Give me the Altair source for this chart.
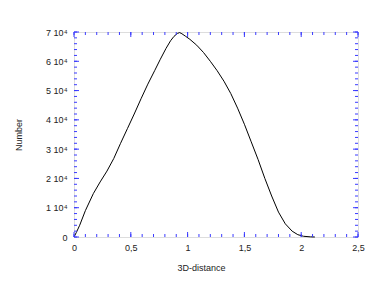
import altair as alt
import pandas as pd

# curve data
dist = [0, 0.02, 0.05, 0.1, 0.17, 0.23, 0.29, 0.35, 0.41, 0.47, 0.53, 0.59, 0.65,
        0.71, 0.76, 0.81, 0.85, 0.88, 0.91, 0.93, 0.95, 0.98, 1.02, 1.08, 1.14,
        1.2, 1.26, 1.32, 1.38, 1.44, 1.5, 1.56, 1.62, 1.68, 1.74, 1.8, 1.86,
        1.92, 1.97, 2.02, 2.08, 2.12]
number = [0, 1500, 4000, 9000, 14800, 18800, 22500, 26800, 32000, 37000, 42000,
          47200, 52200, 56800, 60700, 64400, 67000, 68500, 69500, 69800, 69400,
          68600, 67500, 65500, 63000, 60000, 56800, 53200, 49000, 44000, 38500,
          32500, 26500, 20000, 14000, 8500, 4500, 2000, 800, 250, 50, 0]

x_major = [0, 0.5, 1.0, 1.5, 2.0, 2.5]
x_minor = [round(i * 0.1, 1) for i in range(26)]
y_major = [0, 10000, 20000, 30000, 40000, 50000, 60000, 70000]
y_minor = [i * 2000 for i in range(36)]

W, H = 284, 205
BLUE = "#3a3aff"
FONT = "Liberation Sans"
TXT = "#222222"

xs = alt.Scale(domain=[0, 2.5], nice=False, zero=False)
ys = alt.Scale(domain=[0, 70000], nice=False)

x_axis = alt.Axis(values=x_major, ticks=False, domain=False, grid=False,
                  labelExpr="replace(toString(datum.value), '.', ',')",
                  labelFont=FONT, labelFontSize=9, labelColor=TXT,
                  labelPadding=6, titleFont=FONT, titleFontSize=9,
                  titleFontWeight="normal", titlePadding=11, titleColor=TXT,
                  titleX=127, labelFlush=False)
y_axis = alt.Axis(values=y_major, ticks=False, domain=False, grid=False,
                  labelExpr="datum.value == 0 ? '0' : (datum.value / 10000) + ' 10⁴'",
                  labelFont=FONT, labelFontSize=9, labelColor=TXT,
                  labelPadding=7, titleFont=FONT, titleFontSize=9,
                  titleFontWeight="normal", titlePadding=22, titleColor=TXT,
                  labelFlush=False)

curve = pd.DataFrame({"d": dist, "n": number})

line = alt.Chart(curve).mark_line(color="black", strokeWidth=1).encode(
    x=alt.X("d:Q", scale=xs, title="3D-distance", axis=x_axis),
    y=alt.Y("n:Q", scale=ys, title="Number", axis=y_axis),
)

dfxM = pd.DataFrame({"d": x_major})
dfxm = pd.DataFrame({"d": x_minor})
dfyM = pd.DataFrame({"n": y_major})
dfym = pd.DataFrame({"n": y_minor})

def xticks(df, length, top):
    y0 = 0 if top else H
    y1 = length if top else H - length
    return alt.Chart(df).mark_rule(color=BLUE, strokeWidth=1).encode(
        x=alt.X("d:Q", scale=xs, title="3D-distance", axis=x_axis),
        y=alt.value(y0), y2=alt.value(y1))

def yticks(df, length, right):
    x0 = W if right else 0
    x1 = W - length if right else length
    return alt.Chart(df).mark_rule(color=BLUE, strokeWidth=1).encode(
        y=alt.Y("n:Q", scale=ys, title="Number", axis=y_axis),
        x=alt.value(x0), x2=alt.value(x1))

chart = alt.layer(
    line,
    xticks(dfxm, 3, False), xticks(dfxm, 3, True),
    xticks(dfxM, 5, False), xticks(dfxM, 5, True),
    yticks(dfym, 3, False), yticks(dfym, 3, True),
    yticks(dfyM, 5, False), yticks(dfyM, 5, True),
).properties(
    width=W, height=H,
    autosize=alt.AutoSizeParams(type="none"),
    padding={"left": 66, "top": 24, "right": 16, "bottom": 42},
).configure_view(stroke=BLUE, strokeWidth=1.2).configure(background="white")

chart.save("out.html", embed_options={"renderer": "svg", "actions": False})
